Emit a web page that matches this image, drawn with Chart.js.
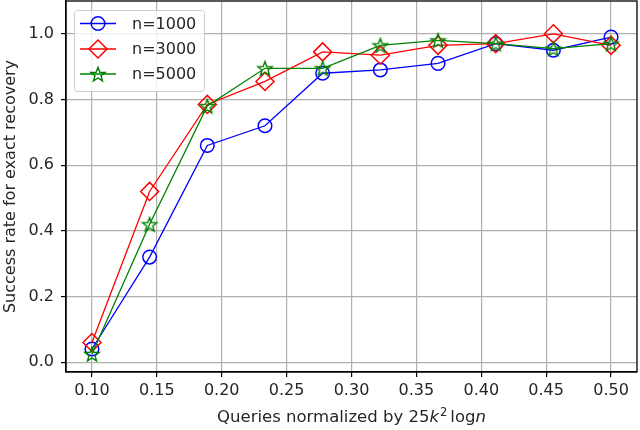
<!DOCTYPE html>
<html>
<head>
<meta charset="utf-8">
<script src="https://cdn.jsdelivr.net/npm/chart.js@4"></script>
<style>
html,body{margin:0;padding:0;background:#fff;}
#c{display:block;}
</style>
</head>
<body>
<canvas id="c" width="640" height="430"></canvas>
<script>
// ---- data ----
const queries = [0.1, 0.14444, 0.18889, 0.23333, 0.27778, 0.32222, 0.36667, 0.41111, 0.45556, 0.5];
const n1000 = [0.04, 0.32, 0.66, 0.72, 0.88, 0.89, 0.91, 0.97, 0.95, 0.99];
const n3000 = [0.06, 0.52, 0.785, 0.855, 0.945, 0.935, 0.965, 0.97, 1.0, 0.965];
const n5000 = [0.025, 0.42, 0.78, 0.895, 0.895, 0.965, 0.98, 0.97, 0.955, 0.97];
const seriesLabels = ['n=1000', 'n=3000', 'n=5000'];
const xTicks = [0.10, 0.15, 0.20, 0.25, 0.30, 0.35, 0.40, 0.45, 0.50];
const yTicks = [0.0, 0.2, 0.4, 0.6, 0.8, 1.0];
const xTitle = 'Queries normalized by 25k\u00B2logn';
const yTitle = 'Success rate for exact recovery';

const FONT = 'DejaVu Sans';
const TXT = '#262626';

function pts(ys){ return ys.map((y,i)=>({x:queries[i], y:y})); }

// star marker (5-point, outline only)
function makeStar(color){
  const s = 20, c = document.createElement('canvas');
  c.width = s; c.height = s;
  const g = c.getContext('2d');
  const cx = s/2, cy = s/2 + 0.8, R = 7.6, r = 3.2;
  g.beginPath();
  for (let k=0;k<10;k++){
    const a = -Math.PI/2 + k*Math.PI/5;
    const rr = (k%2===0)?R:r;
    const px = cx + rr*Math.cos(a), py = cy + rr*Math.sin(a);
    if(k===0) g.moveTo(px,py); else g.lineTo(px,py);
  }
  g.closePath();
  g.strokeStyle = color; g.lineWidth = 1.4; g.lineJoin='miter';
  g.stroke();
  return c;
}
const starImg = makeStar('#008000');

const datasets = [
  {label: seriesLabels[0], data: pts(n1000), borderColor:'#0000ff', pointBorderColor:'#0000ff',
   pointStyle:'circle', pointRadius:6.8, order:3},
  {label: seriesLabels[1], data: pts(n3000), borderColor:'#ff0000', pointBorderColor:'#ff0000',
   pointStyle:'rectRot', pointRadius:9, order:2},
  {label: seriesLabels[2], data: pts(n5000), borderColor:'#008000', pointBorderColor:'#008000',
   pointStyle:starImg, pointRadius:8, order:1}
].map(d=>Object.assign({borderWidth:1.3, pointBorderWidth:1.5, pointBackgroundColor:'rgba(0,0,0,0)',
   pointHoverRadius:d.pointRadius, fill:false, tension:0}, d));

const framePlugin = {
  id:'frame',
  afterDatasetsDraw(chart){
    const {ctx, chartArea:a} = chart;
    ctx.save();
    ctx.strokeStyle = '#000'; ctx.lineWidth = 1.3;
    ctx.strokeRect(a.left, a.top, a.right-a.left, a.bottom-a.top);
    ctx.restore();
  },
  afterDraw(chart){
    const {ctx, chartArea:a} = chart;
    ctx.save();
    // legend
    const lx=74, ly=10, lw=130, lh=81;
    ctx.fillStyle='rgba(255,255,255,0.8)';
    ctx.strokeStyle='#cccccc'; ctx.lineWidth=1;
    ctx.beginPath();
    if (ctx.roundRect) ctx.roundRect(lx+0.5, ly+0.5, lw, lh, 3); else ctx.rect(lx+0.5,ly+0.5,lw,lh);
    ctx.fill(); ctx.stroke();
    const rows=[23.5, 49, 74];
    chart.data.datasets.forEach((ds,i)=>{
      const y=rows[i];
      ctx.strokeStyle=ds.borderColor; ctx.lineWidth=1.3;
      ctx.beginPath(); ctx.moveTo(80,y); ctx.lineTo(116,y); ctx.stroke();
      ctx.lineWidth=1.5;
      ctx.fillStyle='rgba(0,0,0,0)';
      ctx.strokeStyle=ds.borderColor;
      Chart.helpers.drawPoint(ctx, {pointStyle:ds.pointStyle, radius:ds.pointRadius, rotation:0, borderWidth:1.5}, 98, y);
      ctx.fillStyle=TXT; ctx.font='16px "'+FONT+'"';
      ctx.textBaseline='middle'; ctx.textAlign='left';
      ctx.fillText(ds.label, 132, y+1);
    });
    // x title with math italics
    const parts=[
      {t:'Queries normalized by 25', f:'16.5px "'+FONT+'"', dy:0},
      {t:'k', f:'italic 16.5px "'+FONT+'"', dy:0},
      {t:'2', f:'11.5px "'+FONT+'"', dy:-6, pre:1},
      {t:'log', f:'16.5px "'+FONT+'"', dy:0, pre:3},
      {t:'n', f:'italic 16.5px "'+FONT+'"', dy:0}
    ];
    let total=0;
    parts.forEach(p=>{ctx.font=p.f; p.w=ctx.measureText(p.t).width; total+=p.w+(p.pre||0);});
    let x=(a.left+a.right)/2 - total/2;
    ctx.fillStyle=TXT; ctx.textBaseline='alphabetic'; ctx.textAlign='left';
    parts.forEach(p=>{x+=(p.pre||0); ctx.font=p.f; ctx.fillText(p.t, x, 422+p.dy); x+=p.w;});
    // y title
    ctx.translate(15, (a.top+a.bottom)/2);
    ctx.rotate(-Math.PI/2);
    ctx.font='16px "'+FONT+'"'; ctx.textAlign='center'; ctx.textBaseline='alphabetic';
    ctx.fillText(yTitle, 0, 0);
    ctx.restore();
  }
};

new Chart(document.getElementById('c'), {
  type:'line',
  data:{datasets},
  options:{
    responsive:false, animation:false, devicePixelRatio:1,
    layout:{autoPadding:false, padding:{top:1, right:3, left:0, bottom:0}},
    plugins:{legend:{display:false}, tooltip:{enabled:false}},
    scales:{
      x:{type:'linear', min:0.08, max:0.52,
         afterBuildTicks(s){ s.ticks = xTicks.map(v=>({value:v})); },
         afterFit(s){ s.height = 58; s.paddingLeft = 0; s.paddingRight = 0; },
         ticks:{font:{family:FONT, size:16}, color:TXT, padding:4, maxRotation:0, autoSkip:false,
                callback:v=>v.toFixed(2)},
         grid:{color:'#b0b0b0', lineWidth:1.2, tickLength:5, tickColor:'#000', tickWidth:1.2},
         border:{color:'#000', width:1.3}},
      y:{type:'linear', min:-0.03, max:1.1,
         afterBuildTicks(s){ s.ticks = yTicks.map(v=>({value:v})); },
         afterFit(s){ s.width = 66; s.paddingTop = 0; s.paddingBottom = 0; },
         ticks:{font:{family:FONT, size:16}, color:TXT, padding:7, autoSkip:false,
                callback:v=>v.toFixed(1)},
         grid:{color:'#b0b0b0', lineWidth:1.2, tickLength:5, tickColor:'#000', tickWidth:1.2},
         border:{color:'#000', width:1.3}}
    }
  },
  plugins:[framePlugin]
});
</script>
</body>
</html>
